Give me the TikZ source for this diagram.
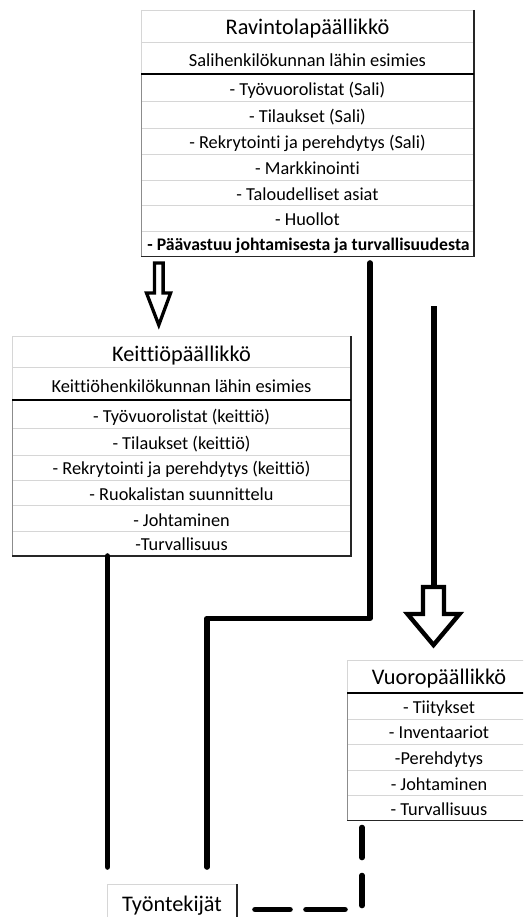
\documentclass[tikz,border=0pt]{standalone}
\usepackage{fontspec}
\setmainfont{Carlito}[Ligatures={NoCommon}]
\usetikzlibrary{calc}
\begin{document}
\begin{tikzpicture}[x=1pt,y=-1pt,
  grid/.style={draw=black!16,line width=0.9pt},
  edge/.style={draw=black!45,line width=0.9pt},
  shadow/.style={draw=black!85,line width=1.3pt},
  sep/.style={draw=black,line width=2pt},
  ttl/.style={anchor=base,inner sep=0pt,font=\fontsize{22.3}{26}\selectfont},
  sub/.style={anchor=base,inner sep=0pt,font=\fontsize{18.4}{22}\selectfont},
  itm/.style={anchor=base,inner sep=0pt,font=\fontsize{18.3}{22}\selectfont},
  wire/.style={line width=5.6pt,line cap=round,line join=round},
  blockarrow/.style={fill=white,draw=black,line join=miter},
]
\useasboundingbox (0,0) rectangle (523,917);
\clip (0,0) rectangle (523,917);

% ---------------- Ravintolapaallikko
\foreach \y in {10,42,101.5,128,154,180,205.7,231} \draw[grid] (141,\y) -- (474,\y);
\draw[grid] (141,10) -- (141,74);
\draw[edge] (141,74) -- (141,256.7);
\draw[shadow] (474,10) -- (474,256.7) -- (141,256.7);
\draw[sep] (141,74) -- (474,74);
\node[ttl] (rav) at (307.5,35) {Ravintolapäällikkö};
\node[sub] (ravsub) at (307.5,67) {Salihenkilökunnan lähin esimies};
\node[itm] (rav1) at (307.5,96) {- Työvuorolistat (Sali)};
\node[itm] (rav2) at (307.5,122.5) {- Tilaukset (Sali)};
\node[itm] (rav3) at (307.5,148.5) {- Rekrytointi ja perehdytys (Sali)};
\node[itm] (rav4) at (307.5,174.5) {- Markkinointi};
\node[itm] (rav5) at (307.5,200.2) {- Taloudelliset asiat};
\node[itm] (rav6) at (307.5,225.5) {- Huollot};
\node[itm,font=\fontsize{17.7}{22}\selectfont\bfseries] (rav7) at (308.5,250.8) {- Päävastuu johtamisesta ja turvallisuudesta};

% ---------------- Keittiopaallikko
\foreach \y in {336,367,428,455,480,505.7,531.7} \draw[grid] (12,\y) -- (351,\y);
\draw[grid] (12,336) -- (12,400);
\draw[edge] (12,400) -- (12,556);
\draw[shadow] (351,336) -- (351,556) -- (12,556);
\draw[sep] (12,400) -- (351,400);
\node[ttl] (kei) at (181.5,361) {Keittiöpäällikkö};
\node[sub] (keisub) at (181.5,392.7) {Keittiöhenkilökunnan lähin esimies};
\node[itm] (kei1) at (181.5,422.5) {- Työvuorolistat (keittiö)};
\node[itm] (kei2) at (181.5,449.5) {- Tilaukset (keittiö)};
\node[itm] (kei3) at (181.5,474.5) {- Rekrytointi ja perehdytys (keittiö)};
\node[itm] (kei4) at (181.5,500.2) {- Ruokalistan suunnittelu};
\node[itm] (kei5) at (181.5,526.2) {- Johtaminen};
\node[itm] (kei6) at (181.5,550.5) {-Turvallisuus};

% ---------------- Vuoropaallikko
\foreach \y in {660,719,744,770,795.7} \draw[grid] (347,\y) -- (531,\y);
\draw[grid] (347,660) -- (347,692.5);
\draw[edge] (347,692.5) -- (347,820.7);
\draw[shadow] (347,820.7) -- (531,820.7);
\draw[sep] (347,692.5) -- (531,692.5);
\node[ttl] (vuo) at (439,684.5) {Vuoropäällikkö};
\node[itm] (vuo1) at (439,713.5) {- Tiitykset};
\node[itm] (vuo2) at (439,738.8) {- Inventaariot};
\node[itm] (vuo3) at (439,764.5) {-Perehdytys};
\node[itm] (vuo4) at (439,790.2) {- Johtaminen};
\node[itm] (vuo5) at (439,815.2) {- Turvallisuus};

% ---------------- Tyontekijat
\draw[grid] (107,930) -- (107,884) -- (237,884);
\draw[shadow] (237,884) -- (237,930);
\node[ttl] (tyo) at (172,911) {Työntekijät};

% ---------------- block arrows
\coordinate (a1top) at (158.8,263);
\draw[blockarrow,line width=3.3pt]
  ($(a1top)+(-4.3,0)$) -- ++(8.6,0) -- ++(0,30) -- ++(7.5,0)
  -- ($(a1top)+(0,62)$) -- ($(a1top)+(-12.3,30)$) -- ($(a1top)+(-4.3,30)$) -- cycle;

\coordinate (a2top) at (433.5,587);
\draw[blockarrow,line width=4.4pt]
  ($(a2top)+(-10.5,0)$) -- ++(21,0) -- ++(0,27) -- ++(15.5,0)
  -- ($(a2top)+(0,58)$) -- ($(a2top)+(-26,27)$) -- ($(a2top)+(-10.5,27)$) -- cycle;

% ---------------- connectors
\coordinate (ravline) at (370,263);
\coordinate (bendA) at (370,618.3);
\coordinate (tyoB) at (207,867);
\coordinate (keiline) at (107.5,556);
\coordinate (tyoA) at (107.5,867);
\coordinate (vline) at (433.5,306);
\coordinate (dashA) at (362,827.5);
\coordinate (dashB) at (254.5,909.5);

\draw[wire] (ravline) -- (bendA) -| (tyoB);
\draw[wire] (keiline) -- (tyoA);
\draw[wire,line width=6pt,line cap=butt] (vline) -- (a2top);
\draw[wire,dash pattern=on 30pt off 18pt on 30pt off 21pt on 39pt off 16pt on 35pt off 10pt] (dashA) |- (dashB);
\end{tikzpicture}
\end{document}
